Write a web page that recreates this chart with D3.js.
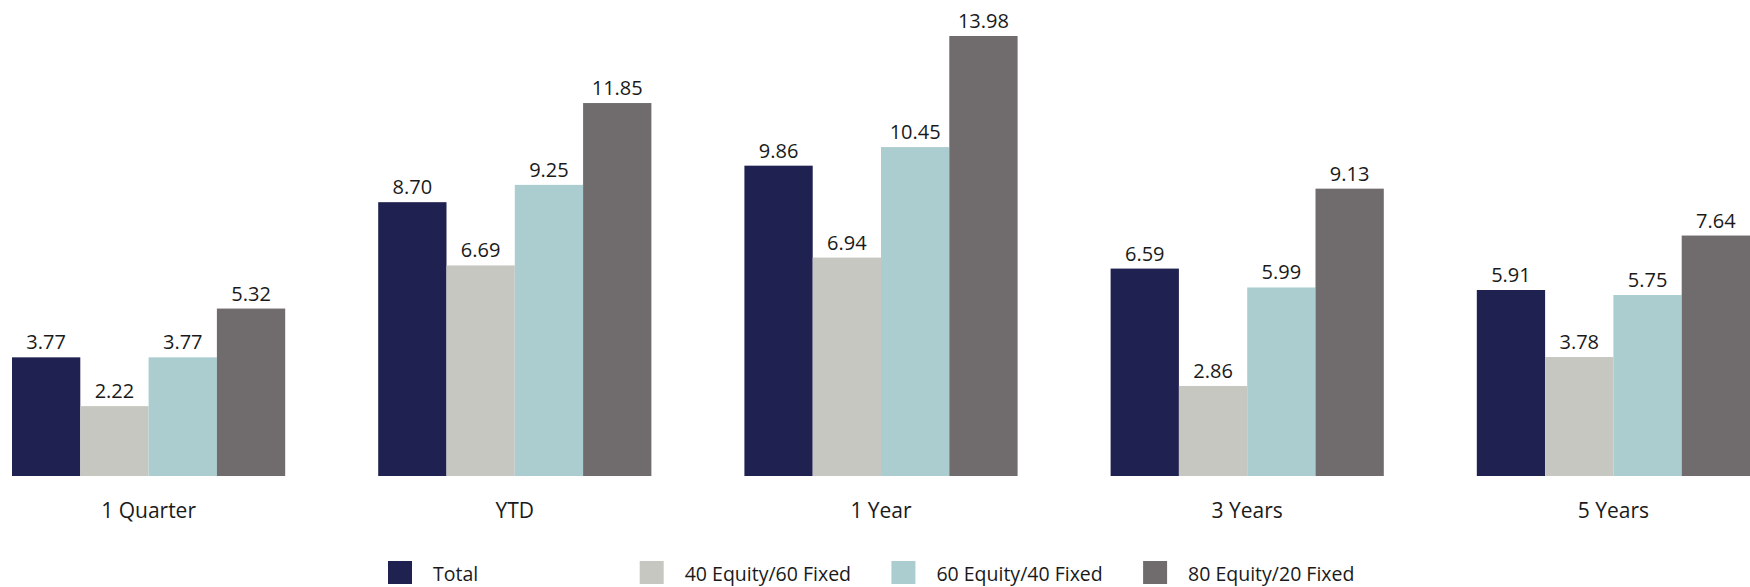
<!DOCTYPE html>
<html>
<head>
<meta charset="utf-8">
<script src="https://cdn.jsdelivr.net/npm/d3@7"></script>
<style>
  body { margin: 0; background: #fff; }
  svg text { font-family: "Open Sans", "Noto Sans", sans-serif; fill: #1a1a1a; }
</style>
</head>
<body>
<div id="chart"></div>
<script>
// Periods along the x axis
const categories = ["1 Quarter", "YTD", "1 Year", "3 Years", "5 Years"]
const seriesNames = ["Total", "40 Equity/60 Fixed", "60 Equity/40 Fixed", "80 Equity/20 Fixed"]
const seriesColors = ["#1f2150", "#c7c7c2", "#abcdcf", "#706c6d"]

// Returns (%) per series, one value per category
const total = [3.77, 8.70, 9.86, 6.59, 5.91]
const eq40 = [2.22, 6.69, 6.94, 2.86, 3.78]
const eq60 = [3.77, 9.25, 10.45, 5.99, 5.75]
const eq80 = [5.32, 11.85, 13.98, 9.13, 7.64]

const seriesValues = [total, eq40, eq60, eq80]

const width = 1750,
  height = 587

const svg = d3.select("#chart").append("svg").attr("width", width).attr("height", height)

const x0 = d3.scaleBand().domain(categories).range([12, 1750]).paddingInner(0.254).paddingOuter(0)
const x1 = d3.scaleBand().domain(seriesNames).range([0, x0.bandwidth()]).padding(0)
const y = d3.scaleLinear().domain([0, 13.98]).range([476, 36])

// flatten into rows for drawing
const rows = []
categories.forEach((c, i) => {
  seriesNames.forEach((s, j) => {
    rows.push({ cat: c, series: s, value: seriesValues[j][i], color: seriesColors[j] })
  })
})

svg
  .selectAll(".bar")
  .data(rows)
  .enter()
  .append("rect")
  .attr("class", "bar")
  .attr("x", (d) => x0(d.cat) + x1(d.series))
  .attr("y", (d) => y(d.value))
  .attr("width", x1.bandwidth())
  .attr("height", (d) => y(0) - y(d.value))
  .attr("fill", (d) => d.color)

// value labels above each bar
svg
  .selectAll(".val")
  .data(rows)
  .enter()
  .append("text")
  .attr("class", "val")
  .attr("x", (d) => x0(d.cat) + x1(d.series) + x1.bandwidth() / 2)
  .attr("y", (d) => y(d.value) - 8)
  .attr("text-anchor", "middle")
  .style("font-size", "20px")
  .text((d) => d.value.toFixed(2))

// category axis, no line or ticks
const xAxis = svg
  .append("g")
  .attr("transform", `translate(0,${y(0)})`)
  .call(d3.axisBottom(x0).tickSize(0).tickPadding(27))
xAxis.select(".domain").remove()
xAxis.selectAll("text").style("font-size", "21px").attr("fill", "#1a1a1a")

// legend
const legend = svg
  .selectAll(".legend")
  .data(seriesNames)
  .enter()
  .append("g")
  .attr("class", "legend")
  .attr("transform", (d, i) => `translate(${388 + i * 251.7},561)`)

legend
  .append("rect")
  .attr("width", 24)
  .attr("height", 23)
  .attr("fill", (d, i) => seriesColors[i])

legend
  .append("text")
  .attr("x", 45)
  .attr("y", 20)
  .style("font-size", "19.5px")
  .text((d) => d)
</script>
</body>
</html>
